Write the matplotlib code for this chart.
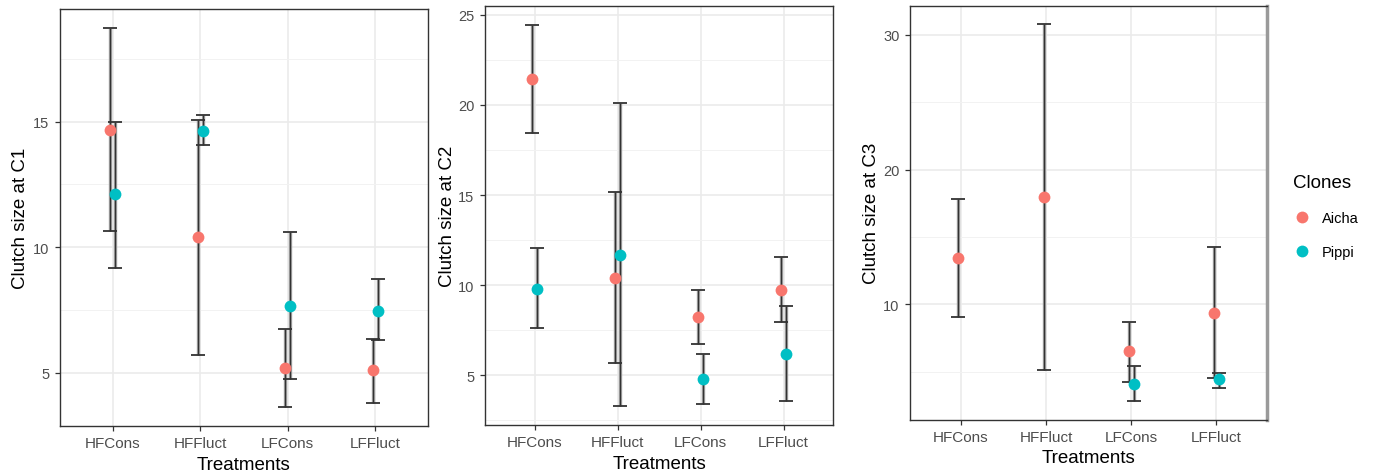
import numpy as np
import matplotlib
matplotlib.use("Agg")
import matplotlib.pyplot as plt
from matplotlib.ticker import MultipleLocator
from matplotlib.lines import Line2D

plt.rcParams["font.family"] = ["Liberation Sans", "DejaVu Sans"]

treatments = ["HFCons", "HFFluct", "LFCons", "LFFluct"]
clones = ["Aicha", "Pippi"]
clone_colors = ["#F8766D", "#00BFC4"]
nan = np.nan

# clutch 1: mean, lower and upper limits per treatment
aicha_c1_mean = [14.67, 10.40, 5.20, 5.10]
aicha_c1_low = [10.66, 5.69, 3.64, 3.81]
aicha_c1_high = [18.73, 15.08, 6.75, 6.36]
pippi_c1_mean = [12.12, 14.64, 7.66, 7.48]
pippi_c1_low = [9.17, 14.09, 4.77, 6.29]
pippi_c1_high = [15.00, 15.27, 10.60, 8.72]

# clutch 2
aicha_c2_mean = [21.42, 10.40, 8.24, 9.71]
aicha_c2_low = [18.43, 5.69, 6.76, 7.96]
aicha_c2_high = [24.45, 15.16, 9.71, 11.56]
pippi_c2_mean = [9.80, 11.69, 4.78, 6.20]
pippi_c2_low = [7.64, 3.30, 3.43, 3.58]
pippi_c2_high = [12.08, 20.09, 6.20, 8.85]

# clutch 3 (no Pippi data for the HF treatments)
aicha_c3_mean = [13.42, 17.97, 6.50, 9.39]
aicha_c3_low = [9.06, 5.13, 4.24, 4.51]
aicha_c3_high = [17.78, 30.77, 8.65, 14.22]
pippi_c3_mean = [nan, nan, 4.12, 4.44]
pippi_c3_low = [nan, nan, 2.83, 3.82]
pippi_c3_high = [nan, nan, 5.43, 4.88]

panels = [
    ("Clutch size at C1",
     [(aicha_c1_mean, aicha_c1_low, aicha_c1_high), (pippi_c1_mean, pippi_c1_low, pippi_c1_high)],
     5, [0.0433, 0.105, 0.2657, 0.874]),
    ("Clutch size at C2",
     [(aicha_c2_mean, aicha_c2_low, aicha_c2_high), (pippi_c2_mean, pippi_c2_low, pippi_c2_high)],
     5, [0.3502, 0.107, 0.2515, 0.879]),
    ("Clutch size at C3",
     [(aicha_c3_mean, aicha_c3_low, aicha_c3_high), (pippi_c3_mean, pippi_c3_low, pippi_c3_high)],
     10, [0.657, 0.118, 0.258, 0.868]),
]

dodge = [-0.03, 0.03]

fig = plt.figure(figsize=(13.85, 4.77), dpi=100)

axes = []
for title, series, step, rect in panels:
    ax = fig.add_axes(rect)
    axes.append(ax)
    x = np.arange(len(treatments))
    all_low, all_high = [], []
    for (mean, low, high), off, col in zip(series, dodge, clone_colors):
        mean = np.array(mean, dtype=float)
        low = np.array(low, dtype=float)
        high = np.array(high, dtype=float)
        yerr = [mean - low, high - mean]
        # soft grey body under a thin dark line
        ax.errorbar(x + off, mean, yerr=yerr, fmt="none", ecolor="#a0a0a0",
                    elinewidth=2.4, capsize=0, zorder=2)
        ax.errorbar(x + off, mean, yerr=yerr, fmt="none", ecolor="#333333",
                    elinewidth=0.9, capsize=5, capthick=1.3, zorder=3)
        ax.plot(x + off, mean, "o", color=col, ms=8.5, mec="none", zorder=4)
        all_low += list(low[~np.isnan(low)])
        all_high += list(high[~np.isnan(high)])

    lo, hi = min(all_low), max(all_high)
    pad = 0.05 * (hi - lo)
    ax.set_ylim(lo - pad, hi + pad)
    ax.set_xlim(-0.6, len(treatments) - 0.4)

    ax.set_xticks(x)
    ax.set_xticklabels(treatments)
    ax.yaxis.set_major_locator(MultipleLocator(step))
    ax.yaxis.set_minor_locator(MultipleLocator(step / 2))

    ax.grid(True, which="major", color="#EBEBEB", lw=1.2, zorder=0)
    ax.grid(True, which="minor", axis="y", color="#F2F2F2", lw=0.7, zorder=0)
    ax.set_axisbelow(True)

    ax.tick_params(axis="both", which="major", length=3.5, width=0.9,
                   color="#333333", labelcolor="#4D4D4D", labelsize=11, pad=4)
    ax.tick_params(axis="y", which="major", labelsize=10.5)
    ax.tick_params(axis="y", which="minor", length=0)
    for sp in ax.spines.values():
        sp.set_color("#333333")
        sp.set_linewidth(1.0)

    ax.set_ylabel(title, fontsize=13.5, color="black")
    ax.set_xlabel("Treatments", fontsize=13.5, color="black")
    ax.yaxis.set_label_coords(-0.108, 0.5)
    ax.xaxis.set_label_coords(0.5, -0.092)
    ax.xaxis.label.set_va("center")
    ax.yaxis.label.set_va("center")

# heavier grey right edge on the last panel
axes[-1].spines["right"].set_color("#9a9a9a")
axes[-1].spines["right"].set_linewidth(2.5)

handles = [Line2D([], [], ls="none", marker="o", ms=8.5, mec="none", color=c)
           for c in clone_colors]
leg = fig.legend(handles, clones, title="Clones", loc="upper left",
                 bbox_to_anchor=(0.924, 0.66), frameon=False, fontsize=10.5,
                 title_fontsize=13.5, handletextpad=0.8, labelspacing=1.35,
                 alignment="left", handlelength=1.2)

fig.savefig("out.png", dpi=100)
